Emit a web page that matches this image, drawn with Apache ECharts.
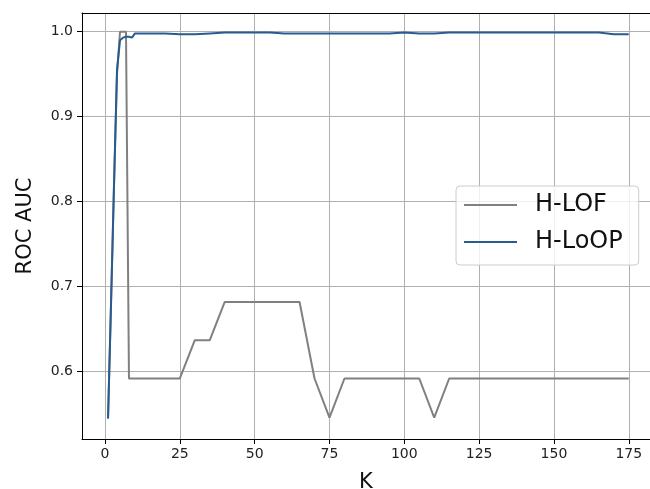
<!DOCTYPE html>
<html>
<head>
<meta charset="utf-8">
<script src="https://cdn.jsdelivr.net/npm/echarts@6/dist/echarts.min.js"></script>
<style>
html,body{margin:0;padding:0;background:#fff;}
#chart{width:650px;height:489px;}
</style>
</head>
<body>
<div id="chart"></div>
<script>
// K values (x)
const kValues = [1,2,3,4,5,6,7,8,9,10,15,20,25,30,35,40,45,50,55,60,65,70,75,80,85,90,95,100,105,110,115,120,125,130,135,140,145,150,155,160,165,170,175];
// H-LOF ROC AUC
const hLof = [0.545,0.68,0.82,0.95,1.0,1.0,1.0,0.592,0.592,0.592,
  0.592,0.592,0.592,0.637,0.637,0.682,0.682,0.682,0.682,0.682,0.682,0.592,0.546,0.592,0.592,0.592,0.592,0.592,0.592,0.546,
  0.592,0.592,0.592,0.592,0.592,0.592,0.592,0.592,0.592,0.592,0.592,0.592,0.592];
// H-LoOP ROC AUC
const hLoop = [0.545,0.68,0.82,0.955,0.99,0.993,0.994,0.994,0.993,0.998,
  0.998,0.998,0.997,0.997,0.998,0.999,0.999,0.999,0.999,0.998,0.998,0.998,0.998,0.998,0.998,0.998,0.998,0.999,0.998,0.998,
  0.999,0.999,0.999,0.999,0.999,0.999,0.999,0.999,0.999,0.999,0.999,0.997,0.997];
// tick labels
const xTicks = [0,25,50,75,100,125,150,175];
const yTicks = [0.6,0.7,0.8,0.9,1.0];
const seriesNames = ['H-LOF','H-LoOP'];
const seriesColors = ['#808080','#2a5b8f'];

const FONT = 'DejaVu Sans';
const chart = echarts.init(document.getElementById('chart'), null, {renderer:'canvas'});
const toPairs = arr => kValues.map((k,i)=>[k,arr[i]]);
const X_MIN = -7.7, X_MAX = 182.1;

chart.setOption({
  animation:false,
  backgroundColor:'#ffffff',
  grid:{left:82, top:13, right:0, bottom:50, show:false, containLabel:false, outerBoundsMode:'none'},
  xAxis:[{
    type:'value', min:X_MIN, max:X_MAX,
    name:'K', nameLocation:'middle', nameGap:33,
    nameTextStyle:{fontFamily:FONT, fontSize:21, color:'#111'},
    axisLine:{show:true, onZero:false, lineStyle:{color:'#000', width:1}},
    axisTick:{show:true, length:5, customValues:xTicks, lineStyle:{color:'#000'}},
    axisLabel:{customValues:xTicks, fontFamily:FONT, fontSize:14, color:'#222', margin:8},
    splitLine:{show:true, lineStyle:{color:'#b0b0b0', width:1}}
  },{
    type:'value', min:X_MIN, max:X_MAX, position:'top',
    axisLine:{show:true, onZero:false, lineStyle:{color:'#000', width:1}},
    axisTick:{show:false}, axisLabel:{show:false}, splitLine:{show:false}
  }],
  yAxis:{
    type:'value', min:0.5208, max:1.022,
    name:'ROC AUC', nameLocation:'middle', nameGap:46,
    nameTextStyle:{fontFamily:FONT, fontSize:21, color:'#111'},
    axisLine:{show:true, onZero:false, lineStyle:{color:'#000', width:1}},
    axisTick:{show:true, length:5, customValues:yTicks, lineStyle:{color:'#000'}},
    axisLabel:{customValues:yTicks, fontFamily:FONT, fontSize:14, color:'#222', margin:9, formatter:v=>v.toFixed(1)},
    splitLine:{show:true, lineStyle:{color:'#b0b0b0', width:1}}
  },
  legend:{
    data:seriesNames.map((n,i)=>({name:n, icon:'rect', itemStyle:{color:seriesColors[i]}})),
    orient:'vertical', left:456, top:186,
    padding:[7,16,11,8], itemGap:13, itemWidth:53, itemHeight:2,
    backgroundColor:'rgba(255,255,255,0.8)', borderColor:'#cccccc', borderWidth:1, borderRadius:4,
    textStyle:{fontFamily:FONT, fontSize:24, color:'#111', padding:[0,0,0,13], lineHeight:24}
  },
  series:[
    {name:seriesNames[0], type:'line', xAxisIndex:0, data:toPairs(hLof), symbol:'none', showSymbol:false, color:seriesColors[0], lineStyle:{color:seriesColors[0], width:2}, z:2},
    {name:seriesNames[1], type:'line', xAxisIndex:0, data:toPairs(hLoop), symbol:'none', showSymbol:false, color:seriesColors[1], lineStyle:{color:seriesColors[1], width:2}, z:3}
  ]
});
</script>
</body>
</html>
